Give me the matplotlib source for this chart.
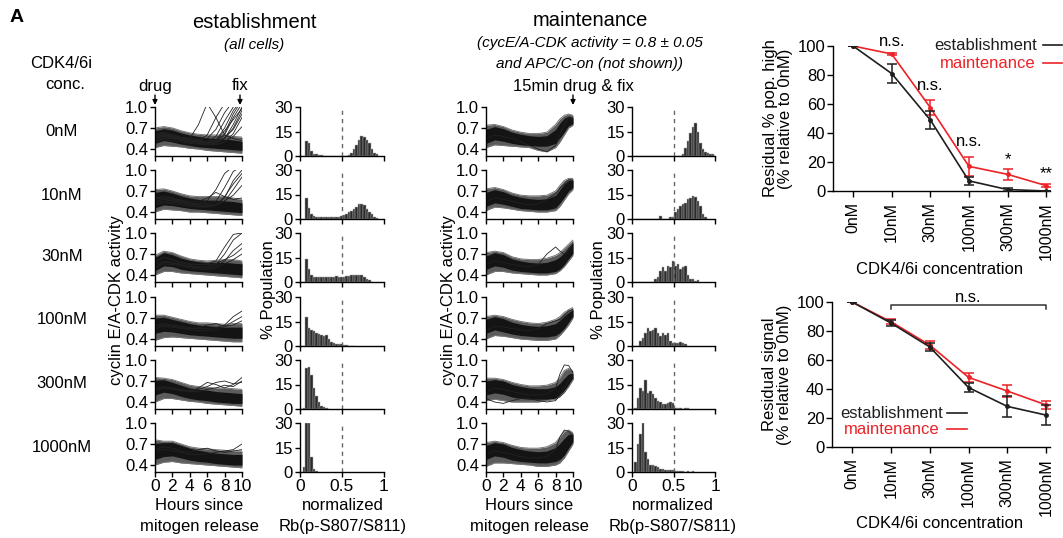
import matplotlib
matplotlib.use('Agg')
import matplotlib.pyplot as plt
import numpy as np
from matplotlib.lines import Line2D

plt.rcParams['font.family'] = ['Liberation Sans', 'DejaVu Sans']

W, H = 1063, 538

# ---------------- data ----------------
ROW_LABELS = ['0nM', '10nM', '30nM', '100nM', '300nM', '1000nM']
T_EST = [0, 1, 2, 3, 4, 5, 6, 7, 8, 9, 10]
T_MAINT = [0, 1, 2, 3, 4, 5, 6, 7, 8, 8.5, 9, 9.5, 10]

EST_OUTER_LO = [
    [0.42, 0.45, 0.44, 0.43, 0.41, 0.40, 0.38, 0.37, 0.36, 0.35, 0.34],
    [0.40, 0.44, 0.43, 0.42, 0.40, 0.40, 0.39, 0.38, 0.37, 0.36, 0.35],
    [0.40, 0.45, 0.45, 0.43, 0.42, 0.41, 0.40, 0.39, 0.38, 0.37, 0.36],
    [0.38, 0.42, 0.43, 0.42, 0.41, 0.40, 0.39, 0.38, 0.37, 0.36, 0.36],
    [0.40, 0.45, 0.45, 0.43, 0.41, 0.40, 0.38, 0.37, 0.36, 0.35, 0.34],
    [0.40, 0.44, 0.45, 0.43, 0.42, 0.41, 0.40, 0.39, 0.38, 0.37, 0.36]]
EST_OUTER_HI = [
    [0.70, 0.72, 0.70, 0.66, 0.63, 0.61, 0.60, 0.60, 0.60, 0.58, 0.57],
    [0.72, 0.73, 0.70, 0.66, 0.63, 0.62, 0.62, 0.62, 0.62, 0.60, 0.58],
    [0.68, 0.74, 0.72, 0.67, 0.63, 0.61, 0.60, 0.61, 0.62, 0.62, 0.60],
    [0.74, 0.74, 0.71, 0.68, 0.65, 0.63, 0.63, 0.62, 0.61, 0.62, 0.62],
    [0.75, 0.74, 0.72, 0.68, 0.64, 0.62, 0.61, 0.60, 0.60, 0.59, 0.58],
    [0.76, 0.74, 0.74, 0.70, 0.66, 0.64, 0.63, 0.62, 0.61, 0.60, 0.60]]
EST_INNER_LO = [
    [0.48, 0.52, 0.50, 0.47, 0.45, 0.43, 0.42, 0.41, 0.40, 0.39, 0.38],
    [0.46, 0.50, 0.49, 0.47, 0.45, 0.44, 0.43, 0.42, 0.41, 0.40, 0.39],
    [0.46, 0.53, 0.52, 0.48, 0.46, 0.45, 0.44, 0.43, 0.42, 0.41, 0.40],
    [0.48, 0.51, 0.50, 0.48, 0.46, 0.45, 0.44, 0.43, 0.42, 0.41, 0.41],
    [0.50, 0.54, 0.52, 0.48, 0.45, 0.43, 0.42, 0.40, 0.39, 0.38, 0.38],
    [0.48, 0.52, 0.53, 0.50, 0.47, 0.45, 0.44, 0.42, 0.41, 0.40, 0.40]]
EST_INNER_HI = [
    [0.66, 0.69, 0.67, 0.63, 0.60, 0.58, 0.56, 0.55, 0.54, 0.53, 0.51],
    [0.68, 0.70, 0.67, 0.63, 0.60, 0.58, 0.57, 0.57, 0.56, 0.55, 0.53],
    [0.65, 0.72, 0.69, 0.64, 0.61, 0.59, 0.58, 0.58, 0.58, 0.57, 0.56],
    [0.70, 0.71, 0.68, 0.65, 0.62, 0.60, 0.59, 0.58, 0.57, 0.57, 0.57],
    [0.71, 0.72, 0.68, 0.64, 0.60, 0.58, 0.57, 0.55, 0.54, 0.53, 0.52],
    [0.71, 0.72, 0.72, 0.68, 0.64, 0.61, 0.59, 0.57, 0.56, 0.55, 0.55]]
EST_TRACES = [
    [[0.55, 0.58, 0.56, 0.55, 0.55, 0.75, 1.05, 0.85, 0.60, 0.55, 0.52],
     [0.55, 0.60, 0.58, 0.55, 0.52, 0.52, 0.60, 0.85, 1.05, 1.10, 1.10],
     [0.60, 0.62, 0.60, 0.56, 0.53, 0.50, 0.50, 0.58, 0.80, 1.00, 1.10],
     [0.50, 0.55, 0.55, 0.52, 0.50, 0.50, 0.48, 0.52, 0.70, 0.95, 1.10],
     [0.58, 0.60, 0.57, 0.55, 0.52, 0.50, 0.50, 0.50, 0.60, 0.85, 1.05],
     [0.62, 0.64, 0.60, 0.56, 0.55, 0.53, 0.50, 0.50, 0.55, 0.75, 1.00],
     [0.52, 0.56, 0.55, 0.53, 0.50, 0.48, 0.47, 0.48, 0.55, 0.70, 0.95],
     [0.60, 0.60, 0.58, 0.55, 0.52, 0.50, 0.50, 0.52, 0.62, 0.90, 1.10],
     [0.55, 0.58, 0.56, 0.53, 0.50, 0.48, 0.47, 0.46, 0.50, 0.62, 0.85],
     [0.57, 0.60, 0.58, 0.55, 0.52, 0.50, 0.50, 0.53, 0.66, 0.82, 0.98],
     [0.50, 0.53, 0.52, 0.50, 0.48, 0.47, 0.46, 0.47, 0.50, 0.58, 0.72],
     [0.60, 0.62, 0.60, 0.57, 0.55, 0.53, 0.55, 0.68, 0.92, 1.08, 1.10],
     [0.54, 0.58, 0.57, 0.55, 0.52, 0.50, 0.48, 0.50, 0.56, 0.68, 0.90]],
    [[0.55, 0.58, 0.56, 0.54, 0.52, 0.52, 0.56, 0.72, 0.95, 1.05, 1.05],
     [0.60, 0.62, 0.60, 0.56, 0.53, 0.52, 0.52, 0.55, 0.75, 0.98, 1.05],
     [0.52, 0.55, 0.54, 0.52, 0.50, 0.48, 0.48, 0.50, 0.60, 0.85, 1.00],
     [0.58, 0.60, 0.58, 0.55, 0.52, 0.50, 0.50, 0.50, 0.55, 0.72, 0.90],
     [0.55, 0.58, 0.56, 0.54, 0.52, 0.50, 0.49, 0.50, 0.56, 0.64, 0.78],
     [0.60, 0.62, 0.60, 0.57, 0.55, 0.55, 0.60, 0.68, 0.62, 0.58, 0.60],
     [0.50, 0.53, 0.52, 0.50, 0.48, 0.47, 0.47, 0.50, 0.62, 0.80, 0.95]],
    [[0.58, 0.65, 0.62, 0.57, 0.55, 0.55, 0.56, 0.60, 0.80, 0.98, 1.00],
     [0.55, 0.60, 0.58, 0.55, 0.53, 0.52, 0.52, 0.55, 0.70, 0.90, 1.00],
     [0.52, 0.58, 0.57, 0.54, 0.52, 0.50, 0.50, 0.52, 0.60, 0.75, 0.85],
     [0.60, 0.65, 0.62, 0.58, 0.56, 0.55, 0.55, 0.56, 0.62, 0.68, 0.78],
     [0.50, 0.56, 0.55, 0.53, 0.50, 0.49, 0.48, 0.50, 0.56, 0.62, 0.70]],
    [[0.60, 0.62, 0.60, 0.58, 0.56, 0.55, 0.55, 0.56, 0.60, 0.72, 0.80],
     [0.55, 0.58, 0.57, 0.55, 0.53, 0.52, 0.52, 0.53, 0.58, 0.65, 0.72],
     [0.58, 0.60, 0.58, 0.56, 0.55, 0.56, 0.60, 0.62, 0.58, 0.60, 0.66]],
    [[0.55, 0.60, 0.60, 0.57, 0.55, 0.60, 0.68, 0.65, 0.60, 0.65, 0.75],
     [0.60, 0.62, 0.60, 0.58, 0.56, 0.58, 0.62, 0.68, 0.70, 0.66, 0.68],
     [0.58, 0.60, 0.58, 0.56, 0.55, 0.55, 0.58, 0.60, 0.64, 0.62, 0.70]],
    [[0.60, 0.62, 0.60, 0.58, 0.55, 0.55, 0.56, 0.58, 0.60, 0.62, 0.70],
     [0.62, 0.66, 0.64, 0.60, 0.58, 0.62, 0.64, 0.60, 0.58, 0.60, 0.62]]]

MAINT_OUTER_LO = [
    [0.42, 0.46, 0.45, 0.44, 0.43, 0.42, 0.38, 0.36, 0.42, 0.50, 0.60, 0.70, 0.74],
    [0.42, 0.47, 0.46, 0.44, 0.42, 0.41, 0.40, 0.40, 0.42, 0.48, 0.57, 0.66, 0.72],
    [0.40, 0.45, 0.45, 0.43, 0.42, 0.41, 0.40, 0.40, 0.42, 0.46, 0.52, 0.60, 0.68],
    [0.40, 0.45, 0.44, 0.42, 0.40, 0.39, 0.38, 0.38, 0.40, 0.45, 0.52, 0.60, 0.70],
    [0.42, 0.44, 0.42, 0.40, 0.40, 0.40, 0.40, 0.42, 0.44, 0.48, 0.54, 0.62, 0.72],
    [0.38, 0.43, 0.43, 0.42, 0.41, 0.40, 0.38, 0.38, 0.40, 0.43, 0.50, 0.60, 0.70]]
MAINT_OUTER_HI = [
    [0.74, 0.75, 0.72, 0.67, 0.64, 0.62, 0.62, 0.64, 0.75, 0.83, 0.88, 0.90, 0.88],
    [0.73, 0.75, 0.72, 0.67, 0.64, 0.63, 0.63, 0.64, 0.70, 0.78, 0.85, 0.88, 0.88],
    [0.72, 0.74, 0.72, 0.66, 0.63, 0.62, 0.62, 0.64, 0.68, 0.72, 0.78, 0.84, 0.90],
    [0.72, 0.74, 0.72, 0.68, 0.65, 0.63, 0.62, 0.64, 0.68, 0.72, 0.78, 0.82, 0.85],
    [0.74, 0.74, 0.72, 0.68, 0.65, 0.63, 0.63, 0.64, 0.68, 0.75, 0.85, 0.88, 0.84],
    [0.72, 0.74, 0.72, 0.68, 0.65, 0.64, 0.64, 0.66, 0.72, 0.80, 0.88, 0.90, 0.86]]
MAINT_INNER_LO = [
    [0.48, 0.53, 0.51, 0.48, 0.46, 0.45, 0.44, 0.44, 0.48, 0.56, 0.64, 0.73, 0.76],
    [0.48, 0.53, 0.51, 0.48, 0.45, 0.44, 0.43, 0.43, 0.46, 0.53, 0.61, 0.70, 0.75],
    [0.48, 0.53, 0.51, 0.47, 0.45, 0.44, 0.43, 0.43, 0.45, 0.48, 0.54, 0.63, 0.71],
    [0.48, 0.53, 0.50, 0.47, 0.45, 0.44, 0.43, 0.43, 0.45, 0.49, 0.55, 0.64, 0.72],
    [0.50, 0.53, 0.51, 0.47, 0.45, 0.44, 0.44, 0.44, 0.45, 0.48, 0.54, 0.64, 0.73],
    [0.48, 0.53, 0.51, 0.47, 0.45, 0.44, 0.43, 0.43, 0.45, 0.48, 0.54, 0.64, 0.73]]
MAINT_INNER_HI = [
    [0.68, 0.72, 0.69, 0.64, 0.61, 0.59, 0.58, 0.59, 0.68, 0.77, 0.84, 0.87, 0.85],
    [0.68, 0.72, 0.69, 0.64, 0.61, 0.59, 0.58, 0.59, 0.64, 0.72, 0.80, 0.85, 0.85],
    [0.67, 0.72, 0.69, 0.63, 0.60, 0.58, 0.57, 0.58, 0.62, 0.66, 0.72, 0.80, 0.86],
    [0.68, 0.72, 0.69, 0.64, 0.61, 0.59, 0.58, 0.59, 0.62, 0.67, 0.73, 0.78, 0.82],
    [0.70, 0.72, 0.70, 0.65, 0.62, 0.60, 0.59, 0.59, 0.62, 0.67, 0.74, 0.80, 0.81],
    [0.68, 0.72, 0.70, 0.65, 0.62, 0.60, 0.59, 0.60, 0.65, 0.71, 0.78, 0.84, 0.84]]
MAINT_TRACES = [
    [[0.55, 0.60, 0.58, 0.55, 0.50, 0.45, 0.40, 0.36, 0.45, 0.60, 0.75, 0.85, 0.82]],
    [[0.55, 0.60, 0.58, 0.55, 0.52, 0.50, 0.52, 0.58, 0.66, 0.74, 0.80, 0.86, 0.85]],
    [[0.55, 0.60, 0.58, 0.55, 0.53, 0.52, 0.55, 0.70, 0.80, 0.74, 0.70, 0.75, 0.85]],
    [[0.52, 0.58, 0.57, 0.55, 0.53, 0.52, 0.55, 0.62, 0.66, 0.68, 0.74, 0.80, 0.82]],
    [[0.55, 0.60, 0.58, 0.55, 0.52, 0.50, 0.50, 0.52, 0.60, 0.80, 0.93, 0.92, 0.82],
     [0.45, 0.40, 0.38, 0.42, 0.45, 0.45, 0.42, 0.40, 0.42, 0.50, 0.60, 0.70, 0.80]],
    [[0.55, 0.60, 0.58, 0.55, 0.52, 0.50, 0.50, 0.52, 0.62, 0.80, 0.90, 0.88, 0.82]]]

BIN_W = 0.03
EST_HIST = [
    [0, 0, 9, 8, 3, 1.5, 1, 0.5, 0.4, 0.3, 0.3, 0.2, 0.2, 0.2, 0.1, 0.1, 0.1, 0.2, 0.3, 0.5,
     2, 4, 7, 10, 12, 11.5, 10, 8, 4, 2, 1],
    [0, 0, 13, 7, 3, 2, 1.5, 1.5, 1.2, 1, 1, 1, 1, 1, 1.2, 1.5, 2, 2.5, 3, 4,
     5, 6, 7.5, 9, 9, 8.5, 6, 4, 3, 1.5, 0.5],
    [0, 0, 14, 8, 4, 3, 3, 3, 2.8, 2.8, 3, 3, 3.2, 3, 3.5, 3, 3, 3.2, 3.5, 3.8,
     4, 4, 4.2, 4.5, 4, 3, 2, 1, 0.3],
    [0, 0, 18, 11, 10, 9, 8, 7.5, 7, 6, 6.5, 4, 2.5, 2, 1.5, 1, 1, 0.6, 0.4, 0.3, 0.3, 0.2],
    [0, 0.5, 25, 25.5, 21, 13, 8, 4, 2, 1, 0.5, 0.3],
    [0, 3, 30, 30, 9, 2, 0.5]]
MAINT_HIST = [
    [0, 0, 0, 0, 0, 0, 0, 0, 0, 0, 0, 0, 0, 0, 0, 0, 0, 0, 0, 0,
     1, 5, 9, 14, 18, 20.5, 15, 8, 4, 2.5, 2, 1.5, 1],
    [0, 0.3, 0.3, 0, 0.3, 0, 0.3, 0, 0.3, 0, 0, 2, 0, 0, 0, 1.5, 1.5, 4, 6, 8,
     9, 10, 12, 13, 14, 13.5, 11, 8, 3, 1.5],
    [0, 0, 0, 0, 0, 0, 0, 0, 0, 2, 3, 7, 9, 7, 10, 9, 13, 10, 11, 8,
     9, 10, 4, 2, 2, 0.5, 1],
    [0, 0, 0, 3, 5, 8, 11, 9, 10, 11, 8, 6, 8, 7, 8, 3, 2, 2, 2, 2.5, 2, 1],
    [0, 0.5, 7, 13, 11, 17.5, 10, 11, 9, 7, 5, 4, 3, 3, 3.5, 4, 3.5, 0.5, 0.5, 0.5,
     0, 0.5, 0.5],
    [0, 6, 17, 23, 30, 12, 8, 4, 4, 3.5, 3, 2, 2, 1, 1, 1.5, 1, 0.5, 0.5, 0.5,
     0.5, 0, 0.5, 0, 0.5]]

CONC = ['0nM', '10nM', '30nM', '100nM', '300nM', '1000nM']
POP_EST = [100, 81, 49, 7, 1, 0]
POP_EST_ERR = [0, 6.5, 6, 3, 0.8, 0.3]
POP_MAINT = [100, 94.5, 57.5, 17, 11.5, 3.7]
POP_MAINT_ERR = [0, 1, 5, 6.5, 3.7, 0.8]
SIG_EST = [100, 85.5, 69, 41, 28, 22]
SIG_EST_ERR = [0, 2, 3, 3.3, 7, 7]
SIG_MAINT = [100, 86.4, 70.3, 48, 38.6, 29]
SIG_MAINT_ERR = [0, 1.8, 3, 3, 4, 3]
POP_SIG = ['', 'n.s.', 'n.s.', 'n.s.', '*', '**']
POP_SIG_Y = [0, 102.8, 73, 34, 18.6, 9]

RED = '#ec2227'
DARK = '#1e1e1e'

# ---------------- figure ----------------
fig = plt.figure(figsize=(W / 100, H / 100), dpi=100)


def add_ax(l, t, w, h):
    return fig.add_axes([l / W, 1 - (t + h) / H, w / W, h / H])


def ftext(x, y, s, **kw):
    kw.setdefault('ha', 'center')
    kw.setdefault('va', 'center')
    fig.text(x / W, 1 - y / H, s, **kw)


def style(ax):
    for s in ('top', 'right'):
        ax.spines[s].set_visible(False)
    for s in ('left', 'bottom'):
        ax.spines[s].set_linewidth(1.0)
    ax.tick_params(direction='out', length=3.5, width=1.0, pad=1.5)


ROW_TOPS = [107, 170, 233, 297, 360, 423]
ROW_H = 49
PANELS = [(155, 87, T_EST, EST_OUTER_LO, EST_OUTER_HI, EST_INNER_LO, EST_INNER_HI, EST_TRACES, 300, 84, EST_HIST),
          (486, 87, T_MAINT, MAINT_OUTER_LO, MAINT_OUTER_HI, MAINT_INNER_LO, MAINT_INNER_HI, MAINT_TRACES, 632, 83, MAINT_HIST)]

TICK_FS = 12
trace_axes = {}
for p, (tl, tw, tt, olo, ohi, ilo, ihi, trs, hl, hw, hists) in enumerate(PANELS):
    for r in range(6):
        top = ROW_TOPS[r]
        ax = add_ax(tl, top, tw, ROW_H)
        style(ax)
        ax.fill_between(tt, olo[r], ohi[r], color='#5c5c5c', lw=0)
        ax.fill_between(tt, ilo[r], ihi[r], color='#141414', lw=0)
        ax.plot(tt, olo[r], color='#777777', lw=0.7)
        ax.plot(tt, ohi[r], color='#777777', lw=0.7)
        for tr in trs[r]:
            ax.plot(tt, tr, color='#222222', lw=0.6)
        ax.set_xlim(0, 10)
        ax.set_ylim(0.3, 1.0)
        ax.set_yticks([0.4, 0.7, 1.0])
        ax.set_yticklabels(['0.4', '0.7', '1.0'], fontsize=TICK_FS)
        ax.set_xticks([0, 2, 4, 6, 8, 10])
        if r == 5:
            ax.set_xticklabels(['0', '2', '4', '6', '8', '10'], fontsize=12.5)
        else:
            ax.set_xticklabels([])
        trace_axes[(p, r)] = ax

        hx = add_ax(hl, top, hw, ROW_H)
        style(hx)
        hv = list(hists[r])
        centers = [BIN_W * (i + 0.5) for i in range(len(hv))]
        hx.bar(centers, hv, width=BIN_W, color='#2b2b2b', edgecolor='#aaaaaa', linewidth=0.35)
        hx.axvline(0.5, color='#666666', lw=1.0, ls=(0, (3, 3)))
        hx.set_xlim(0, 1)
        hx.set_ylim(0, 30)
        hx.set_yticks([0, 15, 30])
        hx.set_yticklabels(['0', '15', '30'], fontsize=TICK_FS)
        hx.set_xticks([0, 0.5, 1])
        if r == 5:
            hx.set_xticklabels(['0', '0.5', '1'], fontsize=12.5)
        else:
            hx.set_xticklabels([])

# ---------------- text on left ----------------
ftext(17, 17, 'A', fontsize=14, fontweight='bold')
ftext(254, 22, 'establishment', fontsize=14.5)
ftext(254, 45, '(all cells)', fontsize=11, style='italic')
ftext(590, 20, 'maintenance', fontsize=14.5)
ftext(590, 43, '(cycE/A-CDK activity = 0.8 \u00b1 0.05', fontsize=11, style='italic')
ftext(590, 64, 'and APC/C-on (not shown))', fontsize=11, style='italic')
ftext(61, 63, 'CDK4/6i', fontsize=12)
ftext(65, 84, 'conc.', fontsize=12)
for lab, y in zip(ROW_LABELS, [132, 195, 257, 320, 384, 447]):
    ftext(62, y, lab, fontsize=12)

ftext(155, 87, 'drug', fontsize=12)
ftext(240, 86, 'fix', fontsize=12)
ftext(573, 86, '15min drug & fix', fontsize=12)

ax0 = trace_axes[(0, 0)]
for xa in (155, 240, 573):
    ax0.annotate('', xy=(xa, H - 105), xytext=(xa, H - 95), xycoords='figure pixels',
                 textcoords='figure pixels', annotation_clip=False,
                 arrowprops=dict(arrowstyle='-|>', color='k', lw=1.0, mutation_scale=7,
                                 shrinkA=0, shrinkB=0))

ftext(117, 300, 'cyclin E/A-CDK activity', fontsize=12, rotation=90)
ftext(268, 290, '% Population', fontsize=12, rotation=90)
ftext(449, 300, 'cyclin E/A-CDK activity', fontsize=12, rotation=90)
ftext(598, 290, '% Population', fontsize=12, rotation=90)

for xc, l1, l2 in [(199, 'Hours since', 'mitogen release'), (343, 'normalized', 'Rb(p-S807/S811)'),
                   (529, 'Hours since', 'mitogen release'), (673, 'normalized', 'Rb(p-S807/S811)')]:
    ftext(xc, 506, l1, fontsize=12)
    ftext(xc, 527, l2, fontsize=12)

# ---------------- right plots ----------------
xs = np.arange(len(CONC))


def right_plot(l, t, est, ee, mt, me, ylab):
    ax = add_ax(l, t, 1050 - l, 145)
    style(ax)
    ax.tick_params(length=4)
    ax.errorbar(xs, est, yerr=ee, color=DARK, lw=1.2, elinewidth=1.1, capsize=3.5, capthick=1.1,
                marker='o', ms=2.5, zorder=3)
    ax.errorbar(xs, mt, yerr=me, color=RED, lw=1.2, elinewidth=1.1, capsize=3.5, capthick=1.1,
                marker='o', ms=2.5, zorder=2)
    ax.set_xlim(-0.52, 5.1)
    ax.set_ylim(0, 100)
    ax.set_yticks([0, 20, 40, 60, 80, 100])
    ax.set_yticklabels(['0', '20', '40', '60', '80', '100'], fontsize=12)
    ax.set_xticks(xs)
    ax.set_xticklabels(CONC, rotation=90, fontsize=11.5)
    ax.tick_params(axis='x', pad=4)
    ax.set_ylabel(ylab, fontsize=12, linespacing=1.0, labelpad=3)
    return ax


axp = right_plot(833, 46, POP_EST, POP_EST_ERR, POP_MAINT, POP_MAINT_ERR,
                 'Residual % pop. high\n(% relative to 0nM)')
for i, (s, y) in enumerate(zip(POP_SIG, POP_SIG_Y)):
    if s:
        va = 'center' if s.startswith('n') else 'baseline'
        axp.text(i, y, s, ha='center', va=va, fontsize=12, clip_on=False)
ftext(940, 270, 'CDK4/6i concentration', fontsize=12)

axs = right_plot(832, 302, SIG_EST, SIG_EST_ERR, SIG_MAINT, SIG_MAINT_ERR,
                 'Residual signal\n(% relative to 0nM)')
axs.plot([1, 1, 5, 5], [95, 98, 98, 95], color='#333333', lw=1.1, clip_on=False)
axs.text(3, 103, 'n.s.', ha='center', va='center', fontsize=12, clip_on=False)
ftext(940, 524, 'CDK4/6i concentration', fontsize=12)

# legends (text + short line)
for (xr, y, lab, col, x0, x1) in [(1037, 45, 'establishment', DARK, 1043, 1062),
                                  (1036, 63, 'maintenance', RED, 1043, 1062),
                                  (943, 413, 'establishment', DARK, 947, 967),
                                  (940, 429, 'maintenance', RED, 947, 967)]:
    ftext(xr, y, lab, fontsize=12, ha='right', color=col)
    fig.add_artist(Line2D([x0 / W, x1 / W], [1 - y / H, 1 - y / H], color=col, lw=1.2))

fig.savefig('out.png', dpi=100)
